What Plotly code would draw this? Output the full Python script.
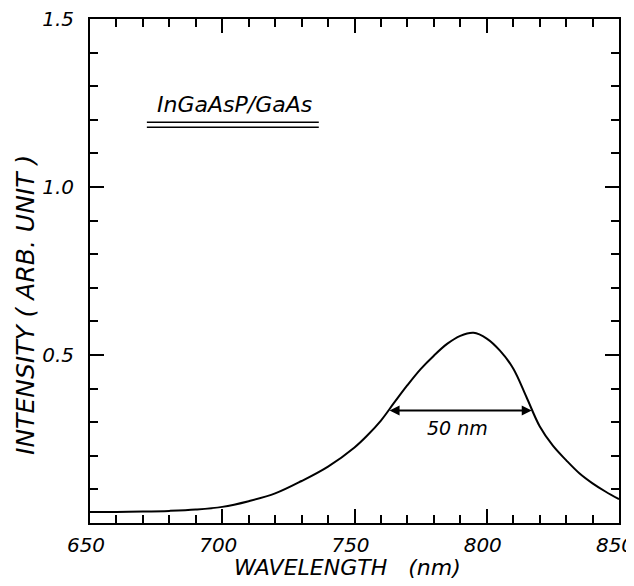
import plotly.graph_objects as go

# Data
wavelength_nm = [650, 660, 670, 680, 690, 700, 710, 720, 730, 740, 750, 755, 760, 765,
                 770, 775, 780, 785, 790, 795, 800, 805, 810, 815, 820, 825, 830, 835,
                 840, 845, 850]
intensity = [0.033, 0.033, 0.034, 0.036, 0.040, 0.048, 0.065, 0.088, 0.125, 0.168, 0.225,
             0.262, 0.305, 0.358, 0.410, 0.458, 0.498, 0.533, 0.557, 0.566, 0.549, 0.513,
             0.460, 0.375, 0.288, 0.230, 0.187, 0.148, 0.118, 0.093, 0.071]

x_ticks = [650, 700, 750, 800, 850]
x_ticktext = ["650", "700", "750", "800", "850"]
y_ticks = [0.5, 1.0, 1.5]
y_ticktext = ["0.5", "1.0", "1.5"]

fwhm_left, fwhm_right, fwhm_level = 762.7, 817.0, 0.335
fwhm_label = "50 nm"
sample_label = "InGaAsP/GaAs"

FONT = "DejaVu Sans"

fig = go.Figure()
fig.add_trace(go.Scatter(
    x=wavelength_nm, y=intensity, mode="lines",
    line=dict(color="black", width=2, shape="spline", smoothing=1.0),
    showlegend=False, hoverinfo="skip"))

axis_common = dict(
    showline=True, linecolor="black", linewidth=2, mirror="allticks",
    ticks="inside", ticklen=14, tickwidth=2, tickcolor="black",
    showgrid=False, zeroline=False, automargin=False, ticklabeloverflow="allow",
)

fig.update_xaxes(
    range=[650, 850], tickvals=x_ticks, ticktext=x_ticktext,
    minor=dict(dtick=10, tick0=650, ticks="inside", ticklen=8, tickwidth=2,
               tickcolor="black", showgrid=False),
    tickfont=dict(family=FONT, size=20, color="black", style="italic"),
    ticklabelstandoff=3, ticklabelshift=-4,
    **axis_common)
fig.update_yaxes(
    range=[0, 1.5], tickvals=y_ticks, ticktext=y_ticktext,
    minor=dict(dtick=0.1, tick0=0, ticks="inside", ticklen=8, tickwidth=2,
               tickcolor="black", showgrid=False),
    tickfont=dict(family=FONT, size=20, color="black", style="italic"),
    ticklabelstandoff=10,
    **axis_common)

annotations = [
    # FWHM double arrow
    dict(x=fwhm_right, y=fwhm_level, ax=fwhm_left, ay=fwhm_level,
         xref="x", yref="y", axref="x", ayref="y", text="",
         showarrow=True, arrowhead=2, arrowside="end+start", arrowsize=1,
         arrowwidth=2, arrowcolor="black", standoff=0, startstandoff=0),
    dict(x=789, y=fwhm_level - 0.052, xref="x", yref="y",
         text=fwhm_label, showarrow=False,
         font=dict(family=FONT, size=19, color="black", style="italic")),
    dict(x=704.8, y=1.245, xref="x", yref="y", text=sample_label, showarrow=False,
         font=dict(family=FONT, size=22, color="black", style="italic")),
    # axis titles
    dict(x=-0.123, y=0.4325, xref="paper", yref="paper", text="INTENSITY ( ARB. UNIT )",
         textangle=-90, showarrow=False, xanchor="center", yanchor="middle",
         font=dict(family=FONT, size=25, color="black", style="italic")),
    dict(x=0.268, y=-0.089, xref="paper", yref="paper",
         text="WAVELENGTH\u00a0\u00a0\u00a0(nm)",
         showarrow=False, xanchor="left", yanchor="middle",
         font=dict(family=FONT, size=22, color="black", style="italic")),
]

shapes = [
    dict(type="line", xref="x", yref="y", x0=671.5, x1=736.5, y0=1.193, y1=1.193,
         line=dict(color="black", width=1.5)),
    dict(type="line", xref="x", yref="y", x0=671.5, x1=736.5, y0=1.178, y1=1.178,
         line=dict(color="black", width=1.5)),
]

# The page body adds an 8 px margin, so the figure is 8 px smaller and margins shifted.
fig.update_layout(
    width=626, height=578,
    margin=dict(l=82, r=15, t=11, b=63),
    plot_bgcolor="white", paper_bgcolor="white",
    annotations=annotations, shapes=shapes,
)

fig.write_html("out.html")
